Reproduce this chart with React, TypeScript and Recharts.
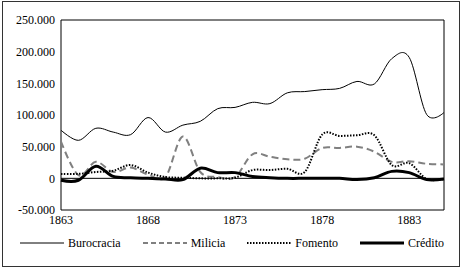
import { LineChart, Line, XAxis, YAxis, ReferenceArea, ReferenceLine } from "recharts";

document.body.style.margin = "0";

const years = [
  1863, 1864, 1865, 1866, 1867, 1868, 1869, 1870, 1871, 1872, 1873, 1874,
  1875, 1876, 1877, 1878, 1879, 1880, 1881, 1882, 1883, 1884, 1885,
];
const burocracia = [
  76000, 60000, 79000, 73000, 69000, 96000, 73000, 84000, 90000, 110000, 112000,
  120000, 118000, 135000, 137000, 140000, 142000, 153000, 149000, 189000,
  191000, 101000, 104000,
];
const milicia = [
  58000, 5000, 26000, 10000, 17000, 6000, 2000, 66000, 10000, 2000, 2000, 38000,
  34000, 30000, 31000, 48000, 48000, 50000, 42000, 26000, 27000, 23000, 22000,
];
const fomento = [
  7000, 7000, 10000, 12000, 21000, 9000, 2000, 1000, 0, 0, 1000, 13000, 13000,
  15000, 10000, 69000, 67000, 68000, 68000, 21000, 24000, -1000, -1000,
];
const credito = [
  -3000, -3000, 19000, 3000, 1000, 0, -1000, -2000, 16000, 9000, 9000, 3000,
  1000, 0, 0, 0, 0, -2000, 1000, 11000, 9000, -2000, -1000,
];
const xTicks = [1863, 1868, 1873, 1878, 1883];
const yTicks = [-50000, 0, 50000, 100000, 150000, 200000, 250000];

const data = years.map((year, i) => ({
  year,
  Burocracia: burocracia[i],
  Milicia: milicia[i],
  Fomento: fomento[i],
  Crédito: credito[i],
}));

const font = "Liberation Serif, DejaVu Serif, serif";

const series = [
  { key: "Burocracia", color: "#000", width: 1, dash: undefined },
  { key: "Milicia", color: "#808080", width: 2, dash: "7 4" },
  { key: "Fomento", color: "#000", width: 2, dash: "1.5 1.5" },
  { key: "Crédito", color: "#000", width: 3, dash: undefined },
];

const fmt = (v: number) => String(v).replace(/\B(?=(\d{3})+(?!\d))/g, ".");

// smoothed line like the spreadsheet's "smoothed line" (cardinal spline)
function smooth(context: any) {
  const k = 1 / 6;
  let x0 = NaN, x1 = NaN, x2 = NaN, y0 = NaN, y1 = NaN, y2 = NaN;
  let n = 0;
  const seg = (x: number, y: number) =>
    context.bezierCurveTo(
      x1 + k * (x2 - x0), y1 + k * (y2 - y0),
      x2 + k * (x1 - x), y2 + k * (y1 - y),
      x2, y2
    );
  return {
    areaStart() {},
    areaEnd() {},
    lineStart() {
      x0 = x1 = x2 = y0 = y1 = y2 = NaN;
      n = 0;
    },
    lineEnd() {
      if (n === 2) context.lineTo(x2, y2);
      else if (n === 3) seg(x1, y1);
    },
    point(x: number, y: number) {
      x = +x;
      y = +y;
      if (n === 0) {
        n = 1;
        context.moveTo(x, y);
      } else if (n === 1) {
        n = 2;
        x1 = x;
        y1 = y;
      } else {
        n = 3;
        seg(x, y);
      }
      x0 = x1; x1 = x2; x2 = x;
      y0 = y1; y1 = y2; y2 = y;
    },
  };
}

function LegendRow() {
  return (
    <div
      style={{
        position: "absolute",
        left: 20,
        width: 424,
        top: 235,
        display: "flex",
        justifyContent: "space-between",
        alignItems: "center",
        fontFamily: font,
        fontSize: 12,
        color: "#000",
      }}
    >
      {series.map((s) => (
        <div key={s.key} style={{ display: "flex", alignItems: "center" }}>
          <svg width={44} height={16}>
            <line
              x1={0}
              y1={8}
              x2={44}
              y2={8}
              stroke={s.color}
              strokeWidth={s.width}
              strokeDasharray={s.key === "Milicia" ? "5 3" : s.dash}
            />
          </svg>
          <span style={{ marginLeft: 4 }}>{s.key}</span>
        </div>
      ))}
    </div>
  );
}

export default function App() {
  return (
    <div style={{ position: "relative", width: 466, height: 272, background: "#fff" }}>
      <div
        style={{
          position: "absolute",
          left: 2,
          top: 1,
          width: 456,
          height: 264,
          border: "1px solid #333",
        }}
      />
      <LineChart
        width={466}
        height={272}
        data={data}
        margin={{ top: 20, right: 22, bottom: 52, left: 0 }}
      >
        <XAxis
          dataKey="year"
          type="number"
          domain={[1863, 1885]}
          ticks={xTicks}
          height={10}
          axisLine={false}
          tickLine={false}
          tickSize={0}
          tickMargin={5}
          tick={{ fill: "#000", fontSize: 12, fontFamily: font }}
        />
        <YAxis
          domain={[-50000, 250000]}
          ticks={yTicks}
          width={61}
          axisLine={false}
          tickLine={false}
          tickSize={0}
          tickMargin={6}
          tickFormatter={fmt}
          tick={{ fill: "#000", fontSize: 12, fontFamily: font }}
        />
        <ReferenceLine y={0} stroke="#000" strokeWidth={1} />
        {series.map((s) => (
          <Line
            key={s.key}
            dataKey={s.key}
            type={smooth as any}
            stroke={s.color}
            strokeWidth={s.width}
            strokeDasharray={s.dash}
            dot={false}
            isAnimationActive={false}
          />
        ))}
        <ReferenceArea
          x1={1863}
          x2={1885}
          y1={-50000}
          y2={250000}
          fill="none"
          stroke="#000"
          strokeWidth={1}
        />
      </LineChart>
      <LegendRow />
    </div>
  );
}
